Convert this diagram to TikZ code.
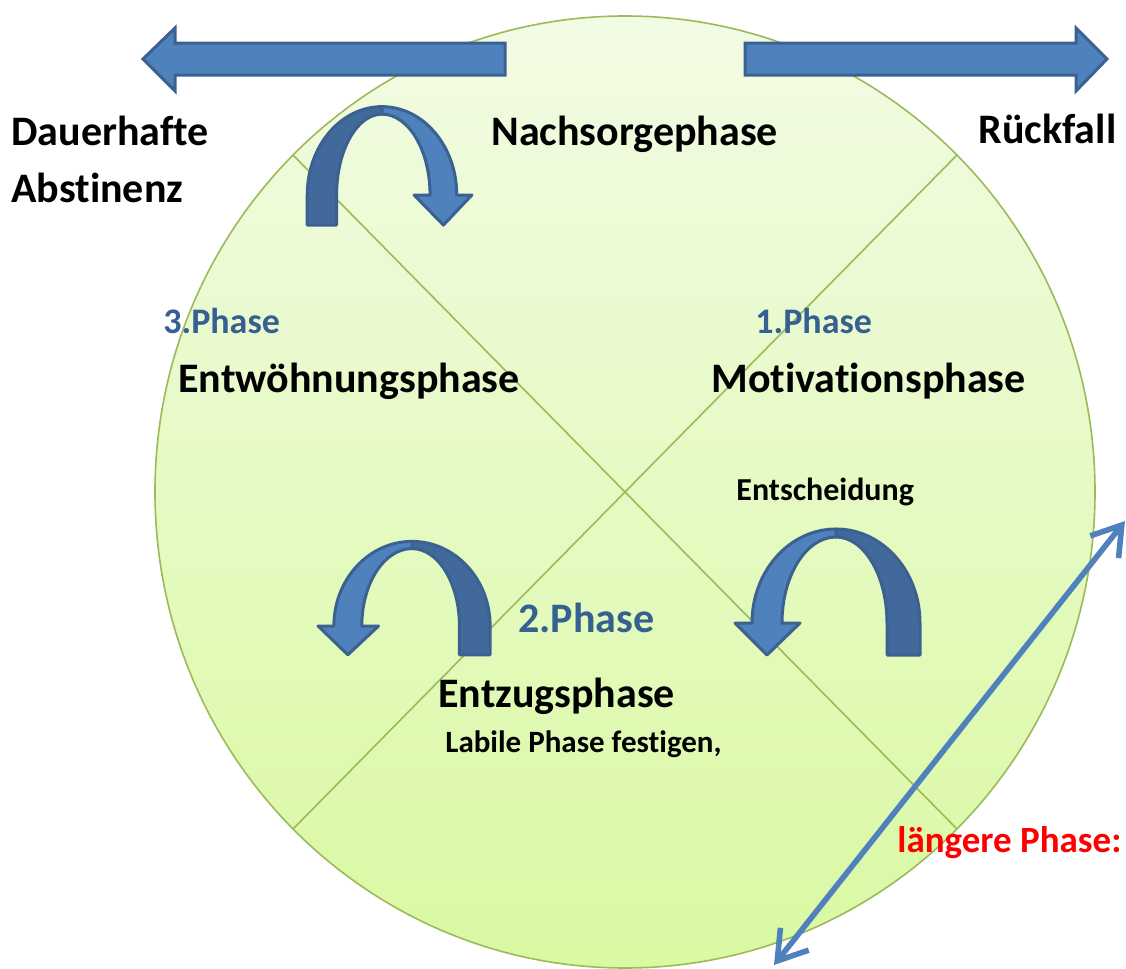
\documentclass[tikz,border=0pt]{standalone}
\usepackage{fontspec}
\setmainfont{Carlito}[Ligatures=CommonOff]
\usetikzlibrary{arrows.meta}

\definecolor{arrblue}{HTML}{4F81BD}
\definecolor{arredge}{HTML}{3B6190}
\definecolor{turndk}{HTML}{41699B}
\definecolor{phaseblue}{HTML}{376092}
\definecolor{circedge}{HTML}{9BBB59}
\definecolor{circtop}{HTML}{F2FBE4}
\definecolor{circbot}{HTML}{D9F9A2}

\tikzset{
bigtxt/.style={font=\fontsize{21}{25}\selectfont\bfseries, inner sep=0pt, anchor=base west},
phasetxt/.style={font=\fontsize{18}{22}\selectfont\bfseries, text=phaseblue, inner sep=0pt, anchor=base west},
smalltxt/.style={font=\fontsize{16}{19}\selectfont\bfseries, inner sep=0pt, anchor=base west},
blockarrow/.style={fill=arrblue, draw=arredge, line width=1.5pt, line join=miter},
turnlight/.style={fill=arrblue, draw=arredge, line width=1.5pt, line join=round},
turndark/.style={fill=turndk, draw=arredge, line width=1.5pt, line join=round},
circline/.style={draw=circedge, line width=0.8pt},
dblarrow/.style={draw=arrblue, line width=2.8pt, line cap=round,
  {Straight Barb[length=14pt,width=18pt]}-{Straight Barb[length=14pt,width=18pt]}}
}

% u-turn arrow, origin = middle of the arc at the arrowhead base
\newcommand{\uturnarrow}[1]{%
\begin{scope}[#1]
\draw[turndark] (0,-94) arc[start angle=270,end angle=360,x radius=84,y radius=94]
  -- (84,32) -- (51,32) -- (51,0) arc[start angle=0,end angle=-90,x radius=51,y radius=86] -- cycle;
\draw[turnlight] (-84,0) arc[start angle=180,end angle=270,x radius=84,y radius=94]
  -- (0,-86) arc[start angle=270,end angle=180,x radius=54,y radius=86]
  -- (-36,0) -- (-69,32) -- (-101,0) -- cycle;
\end{scope}}

\begin{document}
\begin{tikzpicture}[x=0.5pt,y=-0.5pt]
\useasboundingbox (0,0) rectangle (1126,969);

% circle with the four quarters
\shade[top color=circtop, bottom color=circbot] (625,492) ellipse [x radius=470, y radius=476];
\foreach \s in {1,-1}
\draw[circline] (625-332*\s,155) -- (625+332*\s,829);
\draw[circline] (625,492) ellipse [x radius=470, y radius=476];

% block arrows
\draw[blockarrow] (505,43) -- (175,43) -- (175,28) -- (143,59) -- (175,91) -- (175,75) -- (505,75) -- cycle;
\draw[blockarrow] (745,43) -- (1076,43) -- (1076,28) -- (1107,59) -- (1076,91) -- (1076,75) -- (745,75) -- cycle;

% u-turns
\foreach \ux/\uy/\sx/\sy in {382/195/-0.89/0.94, 412/626/0.93/0.9, 836/623/1/1}
\uturnarrow{shift={(\ux,\uy)},xscale=\sx,yscale=\sy};

% longer phase
\coordinate (lo) at (774,965);
\coordinate (hi) at (1125,521);
\draw[dblarrow] (lo) -- (hi);

\node[bigtxt] (dauer) at (11,145) {Dauerhafte};
\node[bigtxt] (abst) at (11,202) {Abstinenz};
\node[bigtxt] (nachsorge) at (491,145) {Nachsorgephase};
\node[bigtxt] (rueck) at (978,143) {Rückfall};

\node[phasetxt] (ph3) at (163,333) {3.Phase};
\node[bigtxt] (entw) at (178,392) {Entwöhnungsphase};
\node[phasetxt] (ph1) at (755,333) {1.Phase};
\node[bigtxt] (motiv) at (711,392) {Motivationsphase};
\node[smalltxt] (entsch) at (736,500) {Entscheidung};

\node[phasetxt, font=\fontsize{21}{25}\selectfont\bfseries] (ph2) at (518,632) {2.Phase};
\node[bigtxt] (entzug) at (438,707) {Entzugsphase};
\node[smalltxt, font=\fontsize{15.5}{19}\selectfont\bfseries] (labil) at (445,752) {Labile Phase festigen,};
\node[bigtxt, text=red, font=\fontsize{18.5}{22}\selectfont\bfseries] (laenger) at (897,852) {längere Phase:};

\end{tikzpicture}
\end{document}
